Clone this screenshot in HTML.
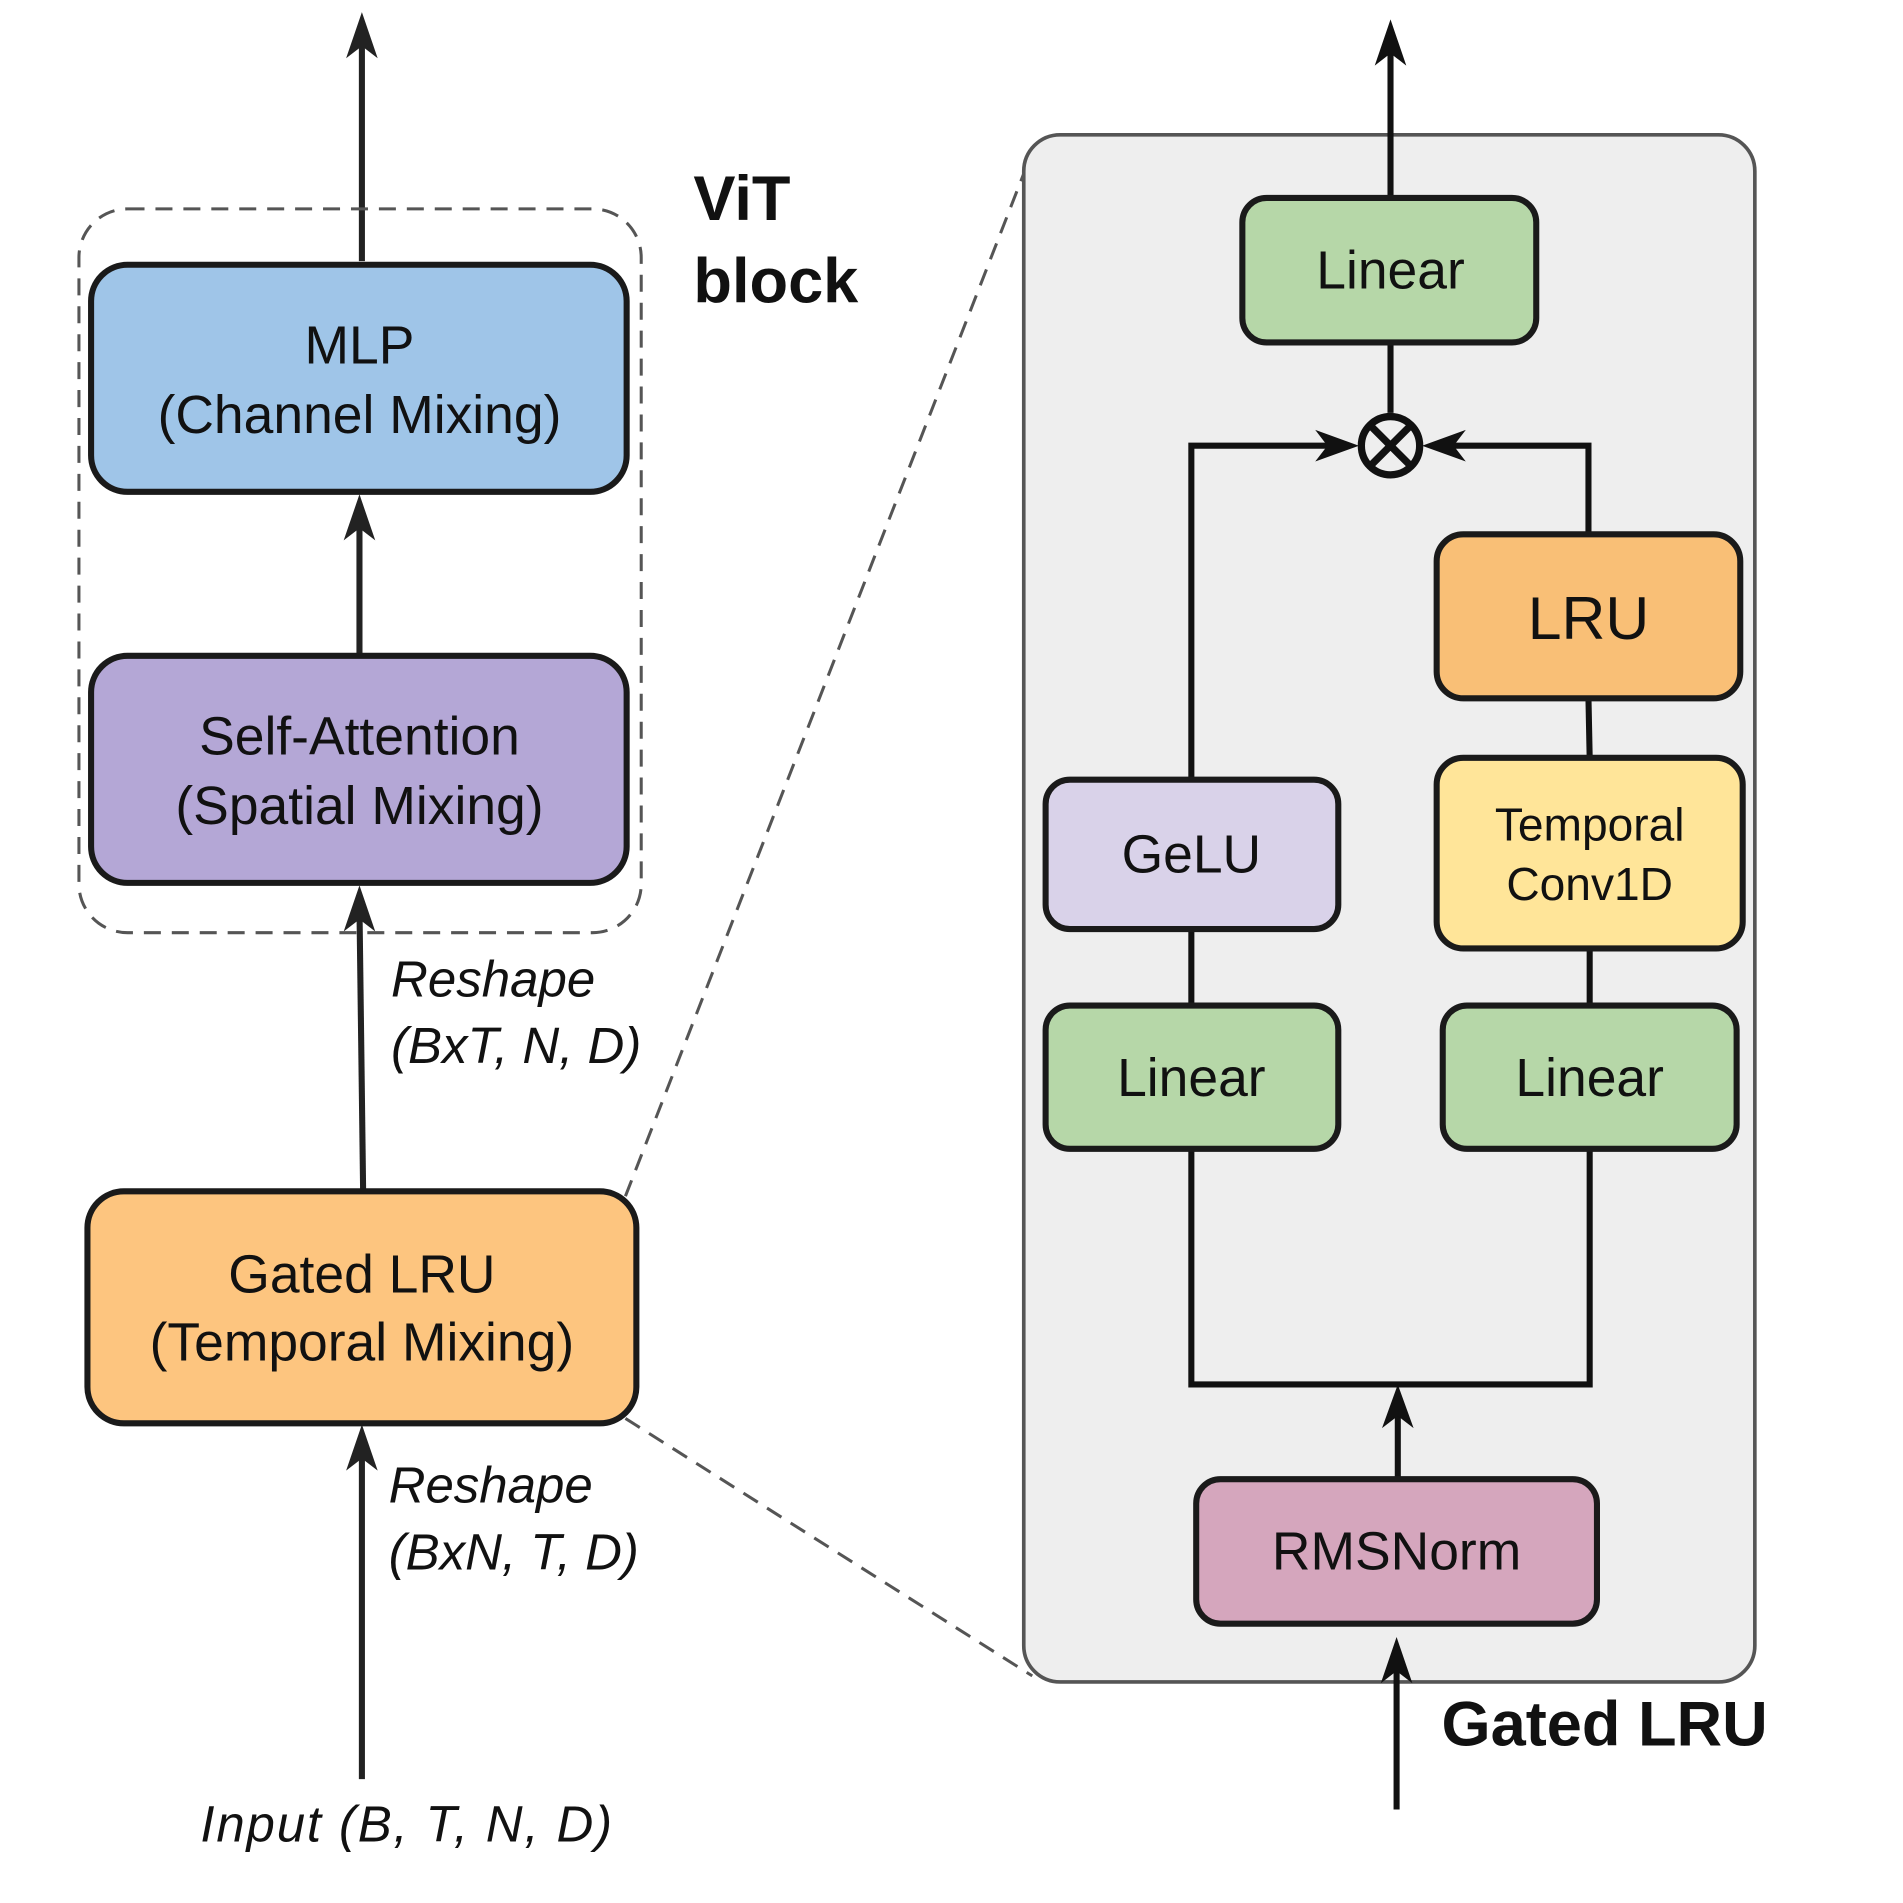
<!DOCTYPE html>
<html><head><meta charset="utf-8"><style>html,body{margin:0;padding:0;background:#fff}svg{display:block}text{font-family:"Liberation Sans",sans-serif;fill:#111}</style></head>
<body>
<svg width="1903" height="1903" viewBox="0 0 1567 1567" xmlns="http://www.w3.org/2000/svg">
<g stroke="#222" stroke-width="5" fill="none">
<line x1="298" y1="215" x2="298" y2="30"/>
<line x1="296" y1="540" x2="296" y2="425"/>
<line x1="299" y1="980" x2="296" y2="748"/>
<line x1="298" y1="1465" x2="298" y2="1192"/>
</g>
<g fill="#222">
<path d="M298,10 L285,48 L298,38 L311,48Z"/>
<path d="M296,407 L283,445 L296,435 L309,445Z"/>
<path d="M296,729 L283,767 L296,757 L309,767Z"/>
<path d="M298,1173 L285,1211 L298,1201 L311,1211Z"/>
</g>
<rect x="65" y="172" width="463" height="596" rx="40" fill="none" stroke="#555" stroke-width="2.5" stroke-dasharray="14,9"/>
<line x1="515" y1="985" x2="850" y2="125" stroke="#555" stroke-width="2.5" stroke-dasharray="14,9"/>
<line x1="515" y1="1168" x2="850" y2="1380" stroke="#555" stroke-width="2.5" stroke-dasharray="14,9"/>
<g stroke="#1a1a1a" stroke-width="5">
<rect x="75" y="218" width="441" height="187" rx="30" fill="#9fc5e8"/>
<rect x="75" y="540" width="441" height="187" rx="30" fill="#b4a7d6"/>
<rect x="72" y="981" width="452" height="191" rx="30" fill="#fdc57f"/>
</g>
<g font-size="44" text-anchor="middle" dominant-baseline="central">
<text x="296" y="285">MLP</text><text x="296" y="342">(Channel Mixing)</text>
<text x="296" y="607">Self-Attention</text><text x="296" y="664">(Spatial Mixing)</text>
<text x="298" y="1050">Gated LRU</text><text x="298" y="1106">(Temporal Mixing)</text>
</g>
<g font-size="42" font-style="italic" dominant-baseline="central">
<text x="322" y="806">Reshape</text><text x="322" y="861">(BxT, N, D)</text>
<text x="320" y="1223">Reshape</text><text x="320" y="1278">(BxN, T, D)</text>
<text x="165" y="1502" letter-spacing="1.5">Input (B, T, N, D)</text>
</g>
<g font-size="52" font-weight="bold" dominant-baseline="central">
<text x="571" y="164">ViT</text><text x="571" y="232">block</text>
<text x="1187" y="1420">Gated LRU</text>
</g>
<rect x="843" y="111" width="602" height="1274" rx="30" fill="#eeeeee" stroke="#555" stroke-width="3"/>
<g stroke="#111" stroke-width="5" fill="none">
<line x1="1145" y1="162" x2="1145" y2="35"/>
<line x1="1145" y1="282" x2="1145" y2="340"/>
<polyline points="981,641 981,367 1100,367"/>
<polyline points="1308,440 1308,367 1190,367"/>
<line x1="1308" y1="575" x2="1309" y2="624"/>
<line x1="1309" y1="781" x2="1309" y2="828"/>
<line x1="981" y1="765" x2="981" y2="828"/>
<polyline points="981,946 981,1140 1309,1140 1309,946"/>
<line x1="1151" y1="1217" x2="1151" y2="1160"/>
<line x1="1150" y1="1490" x2="1150" y2="1368"/>
<circle cx="1145" cy="367" r="24" stroke-width="6"/>
<line x1="1128" y1="350" x2="1162" y2="384" stroke-width="6"/>
<line x1="1162" y1="350" x2="1128" y2="384" stroke-width="6"/>
</g>
<g fill="#111">
<path d="M1145,16 L1132,54 L1145,44 L1158,54Z"/>
<path d="M1119,367 L1083,354 L1093,367 L1083,380Z"/>
<path d="M1171,367 L1207,354 L1197,367 L1207,380Z"/>
<path d="M1151,1140 L1138,1176 L1151,1166 L1164,1176Z"/>
<path d="M1150,1348 L1137,1386 L1150,1376 L1163,1386Z"/>
</g>
<g stroke="#1a1a1a" stroke-width="5">
<rect x="1023" y="163" width="242" height="119" rx="20" fill="#b6d7a8"/>
<rect x="1183" y="440" width="250" height="135" rx="22" fill="#f9bf76"/>
<rect x="1183" y="624" width="252" height="157" rx="22" fill="#ffe599"/>
<rect x="861" y="642" width="241" height="123" rx="20" fill="#d9d2e9"/>
<rect x="861" y="828" width="241" height="118" rx="20" fill="#b6d7a8"/>
<rect x="1188" y="828" width="242" height="118" rx="20" fill="#b6d7a8"/>
<rect x="985" y="1218" width="330" height="119" rx="20" fill="#d5a6bd"/>
</g>
<g font-size="44" text-anchor="middle" dominant-baseline="central">
<text x="1145" y="223">Linear</text>
<text x="1308" y="509" font-size="50">LRU</text>
<text x="1309" y="679" font-size="38">Temporal</text><text x="1309" y="728" font-size="38">Conv1D</text>
<text x="981" y="704">GeLU</text>
<text x="981" y="888">Linear</text>
<text x="1309" y="888">Linear</text>
<text x="1150" y="1278">RMSNorm</text>
</g>
</svg>
</body></html>
